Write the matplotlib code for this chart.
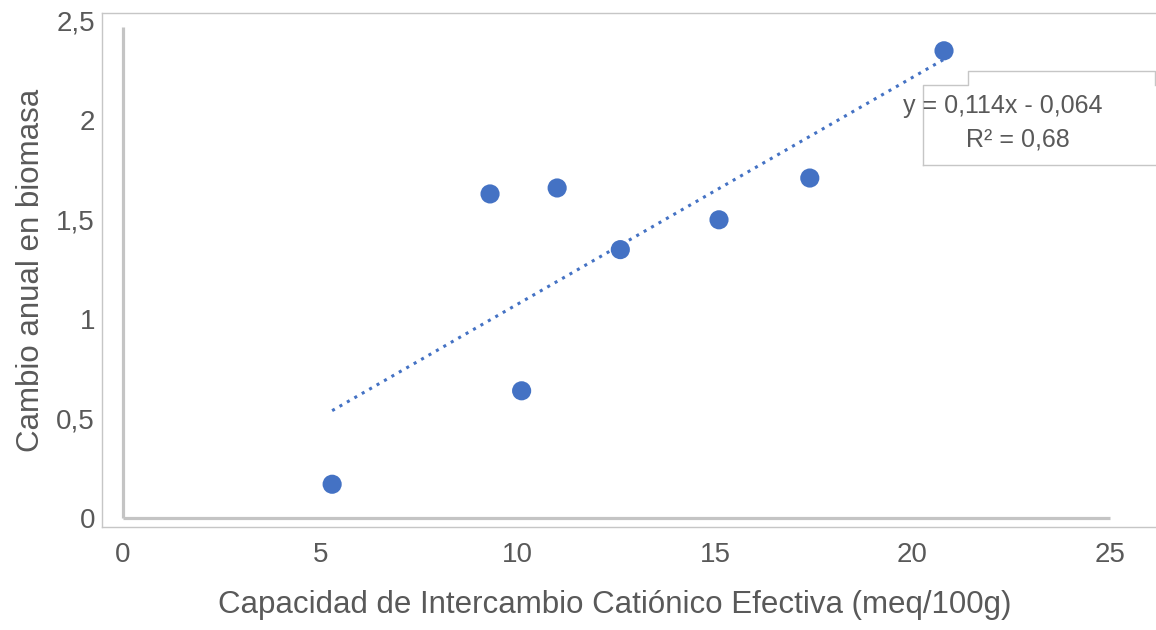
import matplotlib
matplotlib.use("Agg")
import matplotlib.pyplot as plt
from matplotlib.lines import Line2D
import numpy as np

plt.rcParams["font.family"] = ["Liberation Sans", "DejaVu Sans"]

# datos
cice = [5.3, 9.3, 10.1, 11.0, 12.6, 15.1, 17.4, 20.8]
biomasa = [0.17, 1.63, 0.64, 1.66, 1.35, 1.50, 1.71, 2.35]
pendiente = 0.114
intercepto = -0.064
x_ticks = [0, 5, 10, 15, 20, 25]
y_ticks = [0, 0.5, 1, 1.5, 2, 2.5]
y_labels = ["0", "0,5", "1", "1,5", "2", "2,5"]

W, H = 1156, 630
txt = "#595959"
azul = "#4472C4"

fig = plt.figure(figsize=(W / 100, H / 100), dpi=100)
# marco claro: px 102..1156 horiz, 13..527 vert
ax = fig.add_axes([102 / W, 1 - 527 / H, (1156 - 102) / W, (527 - 13) / H])
ax.set_xlim(-0.53, 26.17)
ax.set_ylim(-0.045, 2.54)

for s in ["left", "top", "bottom"]:
    ax.spines[s].set_color("#c6c6c6")
    ax.spines[s].set_linewidth(1.0)
ax.spines["right"].set_visible(False)

# ejes grises en cero
ax.plot([0, 0], [0, 2.47], color="#c4c4c4", lw=2.3, solid_capstyle="butt", zorder=1)
ax.plot([0, 25], [0, 0], color="#c4c4c4", lw=2.3, solid_capstyle="butt", zorder=1)

# línea de tendencia
xt = np.array([min(cice), max(cice)])
ax.plot(xt, pendiente * xt + intercepto, color=azul, lw=2.2,
        linestyle=(0, (1, 1.8)), zorder=2)

ax.scatter(cice, biomasa, s=190, color=azul, edgecolors="none", zorder=3)

ax.set_xticks(x_ticks)
ax.set_xticklabels([str(v) for v in x_ticks])
ax.set_yticks(y_ticks)
ax.set_yticklabels(y_labels)
ax.tick_params(axis="x", length=0, pad=11, labelsize=20, labelcolor=txt)
ax.tick_params(axis="y", length=0, pad=5, labelsize=20, labelcolor=txt)

ax.set_xlabel("Capacidad de Intercambio Catiónico Efectiva (meq/100g)",
              fontsize=22.5, color=txt)
ax.xaxis.set_label_coords((615 - 102) / 1054, -0.152)
ax.xaxis.label.set_va("center")
ax.set_ylabel("Cambio anual en biomasa", fontsize=22.5, color=txt)
ax.yaxis.set_label_coords((31 - 102) / 1054, 0.5)
ax.yaxis.label.set_va("center")

# caja de la ecuación
def px(p):
    return p / W

def py(p):
    return 1 - p / H

caja = [(923, 165), (923, 85), (968, 85), (968, 71), (1155, 71), (1155, 85)]
fig.add_artist(Line2D([px(p[0]) for p in caja], [py(p[1]) for p in caja],
                      color="#c6c6c6", lw=1.0))
fig.add_artist(Line2D([px(923), px(1156)], [py(165), py(165)],
                      color="#c6c6c6", lw=1.0))

fig.text(px(1003), py(106), "y = 0,114x - 0,064", fontsize=18, color=txt,
         ha="center", va="center")
fig.text(px(1018), py(140), "R² = 0,68", fontsize=18, color=txt,
         ha="center", va="center")

fig.savefig("out.png", dpi=100)
